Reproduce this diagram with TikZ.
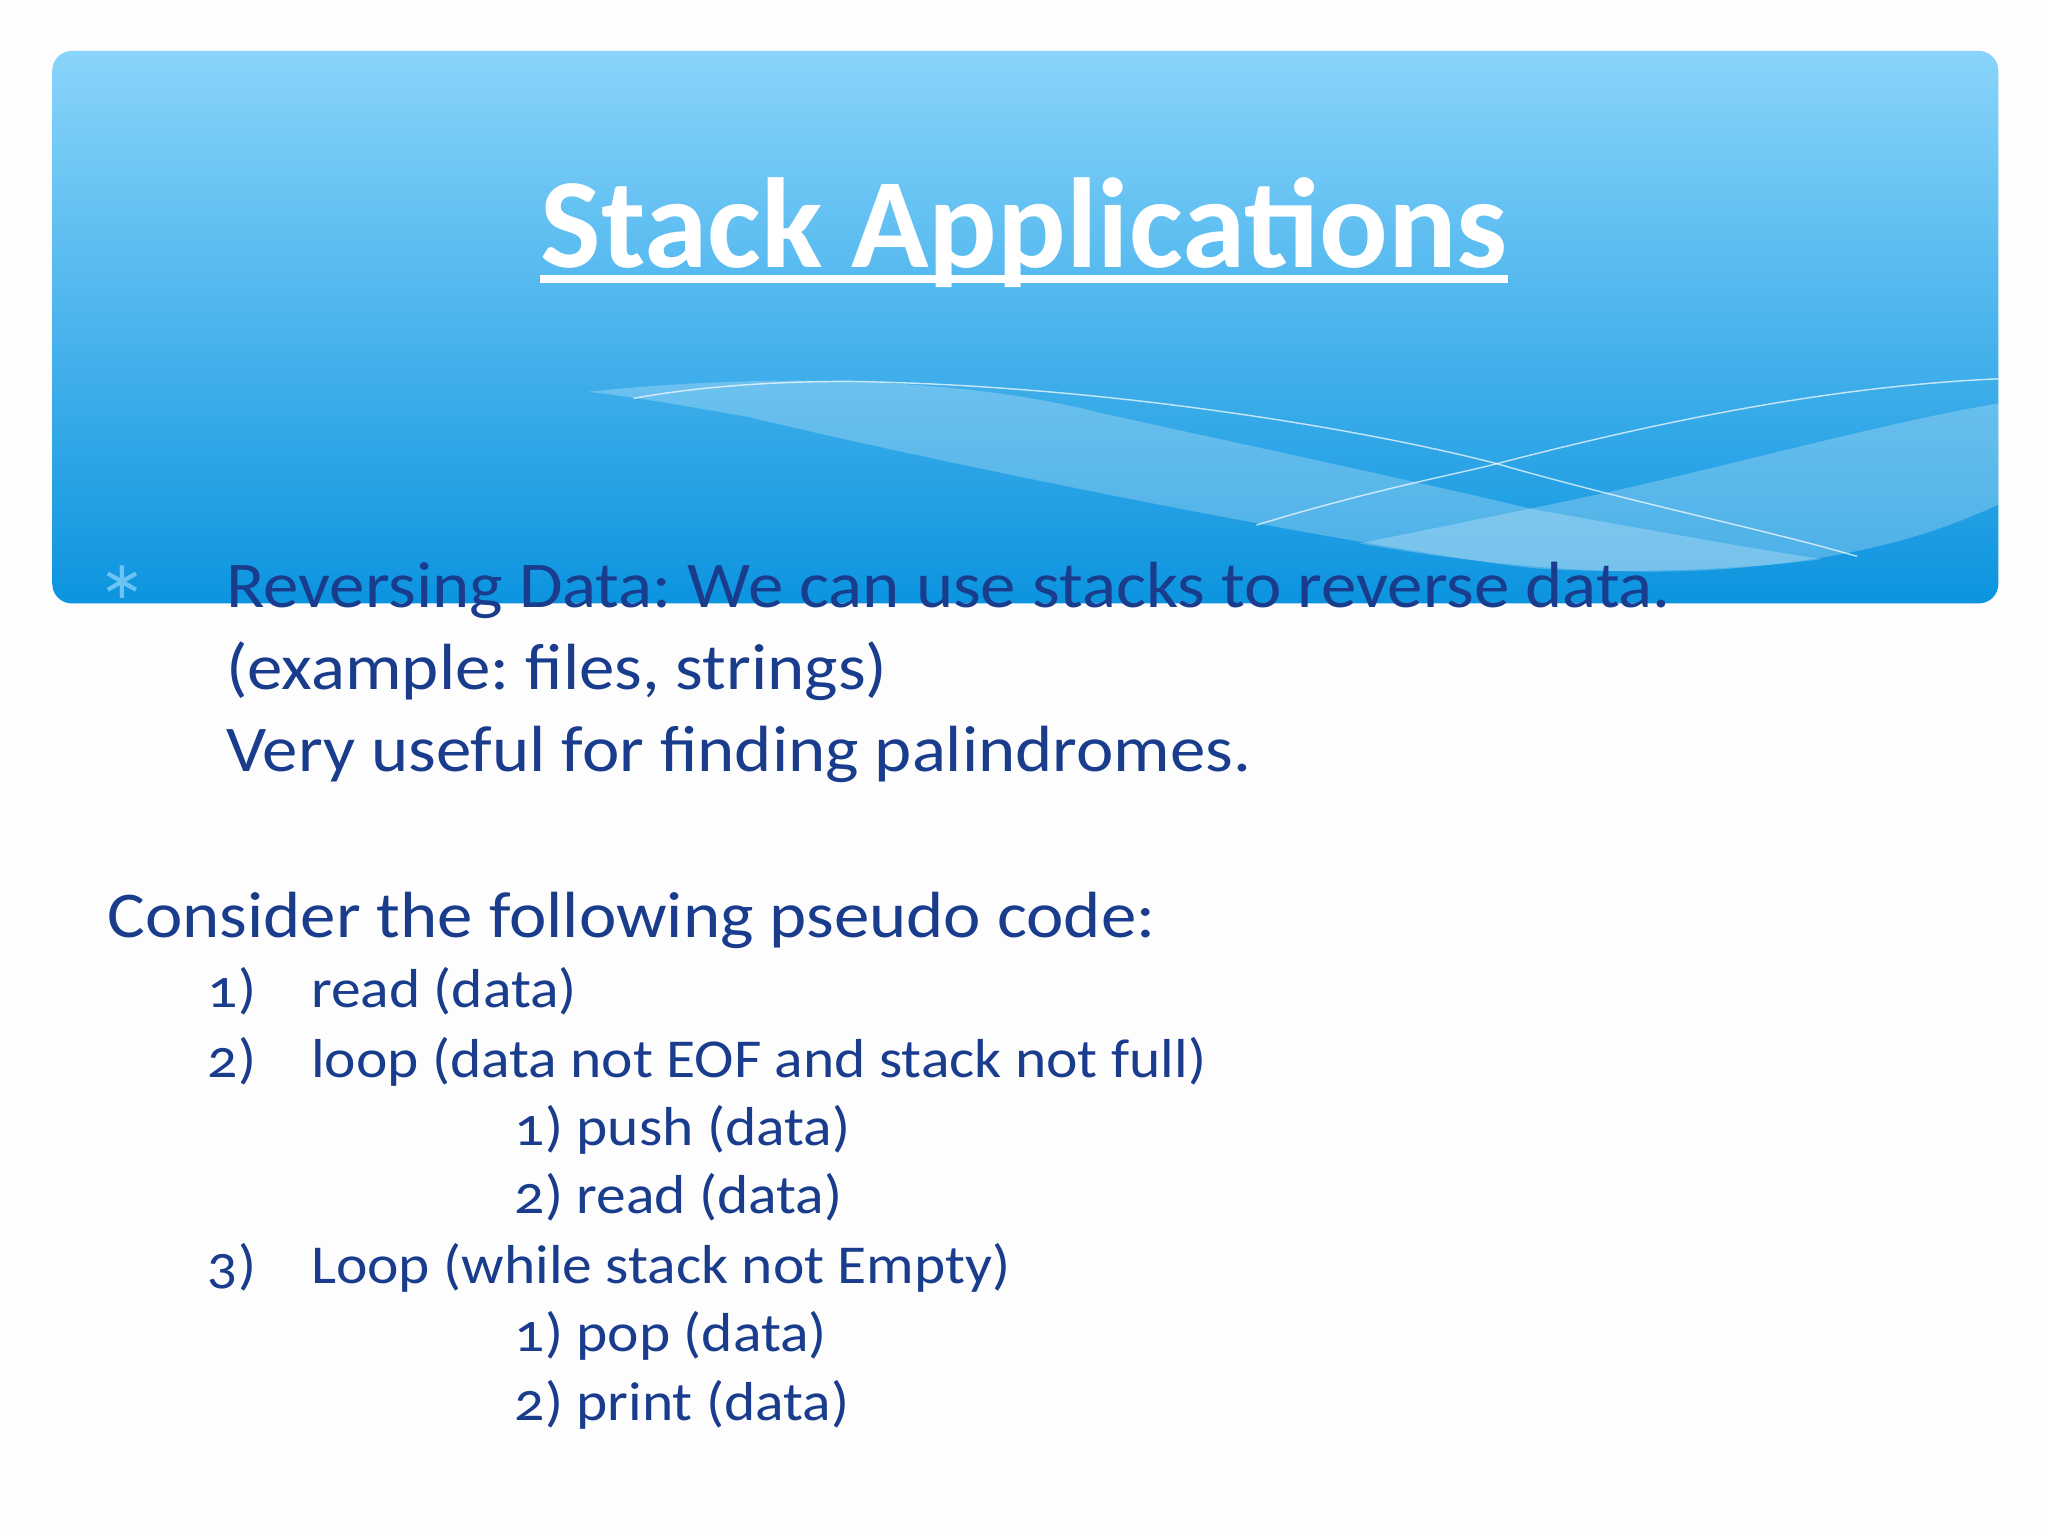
\documentclass[tikz,border=0pt]{standalone}
\usepackage{fontspec}
\usepackage{xcolor}
\usetikzlibrary{calc}
\setmainfont{Carlito}[Numbers=OldStyle, FakeStretch=1.085]
\newfontfamily\titlefont{Carlito}
\newfontfamily\symfont{DejaVu Sans}
\frenchspacing
\definecolor{pagebg}{RGB}{253, 253, 253}
\definecolor{skytop}{RGB}{137, 212, 250}
\definecolor{skymid}{RGB}{60, 172, 235}
\definecolor{skybot}{RGB}{12, 148, 223}
\definecolor{ink}{RGB}{25, 60, 140}
\definecolor{bulletblue}{RGB}{110, 195, 245}
\newcommand{\titlesize}{\titlefont\fontsize{98}{110}\selectfont\bfseries}
\newcommand{\bodysize}{\fontsize{50}{60}\selectfont}
\newcommand{\codesize}{\fontsize{42}{50}\selectfont}
\tikzset{
  bodytext/.style={anchor=base west, inner sep=0pt, text=ink, font=\bodysize},
  codetext/.style={anchor=base west, inner sep=0pt, text=ink, font=\codesize},
  wave/.style={fill=white, fill opacity=0.24},
  waveline/.style={draw=white, draw opacity=0.7, line width=1.1pt}
}

\begin{document}
\begin{tikzpicture}[x=1pt, y=-1pt]
  \useasboundingbox (0,0) rectangle (1568,1176);
  \fill[pagebg] (0,0) rectangle (1568,1176);
  % title band
  \shade[rounded corners=15pt, top color=skytop, middle color=skymid, bottom color=skybot]
    (40,39) rectangle (1530,462);
  \begin{scope}
    \clip[rounded corners=15pt] (40,39) rectangle (1530,462);
    \fill[wave] (450,300) .. controls (560,288) and (720,285) .. (842,316)
      .. controls (960,342) and (1100,372) .. (1174,390)
      .. controls (1260,405) and (1340,420) .. (1395,428)
      .. controls (1330,437) and (1220,440) .. (1164,434)
      .. controls (1000,412) and (700,350) .. (572,319)
      .. controls (520,310) and (480,303) .. (450,300) -- cycle;
    \fill[wave] (1041,416) .. controls (1120,400) and (1180,388) .. (1235,376)
      .. controls (1350,350) and (1450,322) .. (1535,308)
      -- (1535,384)
      .. controls (1480,410) and (1420,428) .. (1317,436)
      .. controls (1220,442) and (1120,430) .. (1041,416) -- cycle;
    \draw[waveline] (485,305) .. controls (540,295) and (600,292) .. (650,292)
      .. controls (850,295) and (1050,330) .. (1146,355)
      .. controls (1250,385) and (1350,405) .. (1422,426);
    \draw[waveline] (962,402) .. controls (1050,375) and (1120,362) .. (1146,355)
      .. controls (1300,315) and (1420,295) .. (1530,290);
  \end{scope}
  \node[anchor=base, inner sep=0pt, text=white, font=\titlesize] (title) at (784,205) {Stack Applications};
  \draw[white, line width=6.5pt] ([yshift=-8.5pt]title.base west) -- ([yshift=-8.5pt]title.base east);
  % bullet paragraph
  \node[inner sep=0pt, text=bulletblue, font=\symfont\fontsize{40}{40}\selectfont] (bullet) at (93.5,445.5) {∗};
  \node[bodytext] (rev1) at (173,465) {Reversing Data: We can use stacks to reverse data.};
  \node[bodytext] (rev2) at (173,528) {(example: files, strings)};
  \node[bodytext] (rev3) at (173,591) {Very useful for finding palindromes.};
  \node[bodytext] (consider) at (82,718) {Consider the following pseudo code:};
  % pseudo code
  \node[codetext] (n1) at (159,771.7) {1)};
  \node[codetext] (c1) at (238,771.7) {read (data)};
  \node[codetext] (n2) at (159,824.6) {2)};
  \node[codetext] (c2) at (238,824.6) {loop (data not EOF and stack not full)};
  \node[codetext] (c21) at (394,877.2) {1) push (data)};
  \node[codetext] (c22) at (394,929) {2) read (data)};
  \node[codetext] (n3) at (159,982.7) {3)};
  \node[codetext] (c3) at (238,982.7) {Loop (while stack not Empty)};
  \node[codetext] (c31) at (394,1034.7) {1) pop (data)};
  \node[codetext] (c32) at (394,1087.3) {2) print (data)};
\end{tikzpicture}
\end{document}
